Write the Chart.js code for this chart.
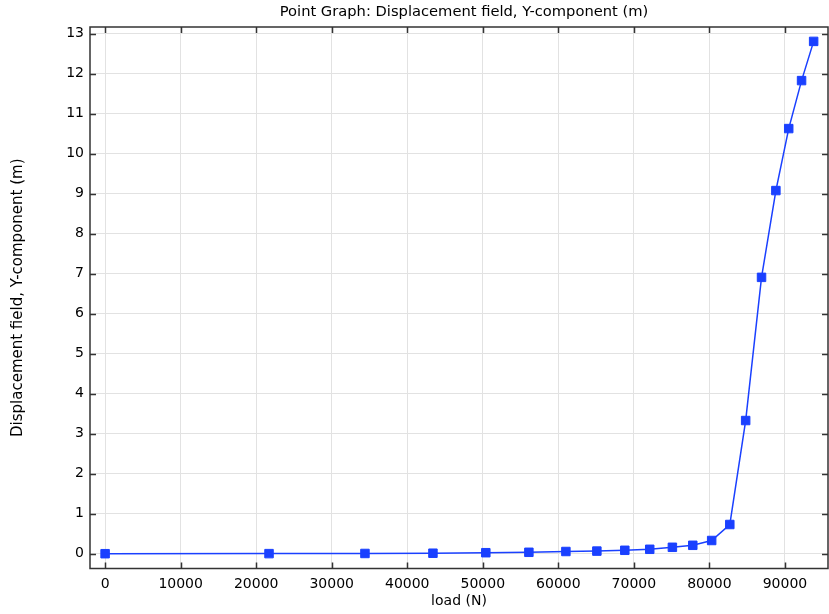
<!DOCTYPE html>
<html>
<head>
<meta charset="utf-8">
<script src="https://cdn.jsdelivr.net/npm/chart.js@4.4.1/dist/chart.umd.min.js"></script>
<style>
  html, body { margin: 0; padding: 0; background: #fff; }
  #wrap { width: 829px; height: 614px; }
</style>
</head>
<body>
<div id="wrap"><canvas id="myChart"></canvas></div>
<script>
// load values (N) and Y displacement (m)
const loads = [0, 21700, 34400, 43400, 50400, 56100, 61000, 65100, 68800, 72100, 75100, 77800, 80300, 82700, 84800, 86900, 88800, 90500, 92200, 93800];
const dispY = [0, 0.002, 0.006, 0.012, 0.025, 0.035, 0.055, 0.065, 0.085, 0.11, 0.16, 0.21, 0.33, 0.73, 3.33, 6.91, 9.08, 10.63, 11.83, 12.81];
const xTicks = [0, 10000, 20000, 30000, 40000, 50000, 60000, 70000, 80000, 90000];
const yTicks = [0, 1, 2, 3, 4, 5, 6, 7, 8, 9, 10, 11, 12, 13];
const titleText = "Point Graph: Displacement field, Y-component (m)";

const points = loads.map((v, i) => ({ x: v, y: dispY[i] }));
const font = "'DejaVu Sans', sans-serif";

// frame round the plot plus inward ticks on all four sides, and the title over the plot
const framePlugin = {
  id: "frame",
  beforeDatasetsDraw(chart) {
    const { ctx, chartArea: a, scales } = chart;
    const len = 6;
    ctx.save();
    ctx.strokeStyle = "#333";
    ctx.lineWidth = 1.5;
    ctx.beginPath();
    scales.x.ticks.forEach(t => {
      const px = Math.round(scales.x.getPixelForValue(t.value)) + 0.5;
      ctx.moveTo(px, a.bottom); ctx.lineTo(px, a.bottom - len);
      ctx.moveTo(px, a.top); ctx.lineTo(px, a.top + len);
    });
    scales.y.ticks.forEach(t => {
      const py = Math.round(scales.y.getPixelForValue(t.value)) + 0.5;
      ctx.moveTo(a.left, py); ctx.lineTo(a.left + len, py);
      ctx.moveTo(a.right, py); ctx.lineTo(a.right - len, py);
    });
    ctx.stroke();
    ctx.strokeRect(a.left, a.top, a.right - a.left, a.bottom - a.top);

    ctx.fillStyle = "#000";
    ctx.font = "14.7px " + font;
    ctx.textAlign = "center";
    ctx.textBaseline = "middle";
    ctx.fillText(titleText, (a.left + a.right) / 2 + 5, 12);
    ctx.restore();
  }
};

const ctx = document.getElementById("myChart").getContext("2d");

new Chart(ctx, {
  type: "line",
  data: {
    datasets: [
      {
        data: points,
        borderColor: "#1a40ff",
        backgroundColor: "#1a40ff",
        borderWidth: 1.5,
        pointStyle: "rect",
        pointRadius: 6,
        pointBorderWidth: 1,
        tension: 0,
        fill: false,
      },
    ],
  },
  options: {
    responsive: true,
    maintainAspectRatio: false,
    animation: false,
    layout: { autoPadding: false, padding: { left: 0, right: 1, top: 27, bottom: 0 } },
    scales: {
      x: {
        type: "linear",
        min: -2000,
        max: 95700,
        afterBuildTicks: s => { s.ticks = xTicks.map(v => ({ value: v })); },
        afterFit: s => { s.height = 45.5; s.paddingLeft = 0; s.paddingRight = 0; },
        ticks: {
          padding: 7,
          color: "#000",
          maxRotation: 0,
          font: { family: font, size: 14 },
          callback: v => String(v),
        },
        grid: { color: "#e2e2e2", drawTicks: false },
        border: { display: false },
        title: {
          display: true,
          text: "load (N)",
          color: "#000",
          font: { family: font, size: 14 },
          padding: { top: 0, bottom: 4 },
        },
      },
      y: {
        min: -0.37,
        max: 13.17,
        afterBuildTicks: s => { s.ticks = yTicks.map(v => ({ value: v })); },
        afterFit: s => { s.width = 90; s.paddingTop = 0; s.paddingBottom = 0; },
        ticks: {
          padding: 6,
          color: "#000",
          font: { family: font, size: 14 },
          callback: v => String(v),
        },
        grid: { color: "#e2e2e2", drawTicks: false },
        border: { display: false },
        title: {
          display: true,
          text: "Displacement field, Y-component (m)",
          color: "#000",
          font: { family: font, size: 15 },
          padding: { top: 9, bottom: 0 },
        },
      },
    },
    plugins: {
      legend: { display: false },
      tooltip: { enabled: false },
      title: { display: false },
    },
  },
  plugins: [framePlugin],
});
</script>
</body>
</html>
